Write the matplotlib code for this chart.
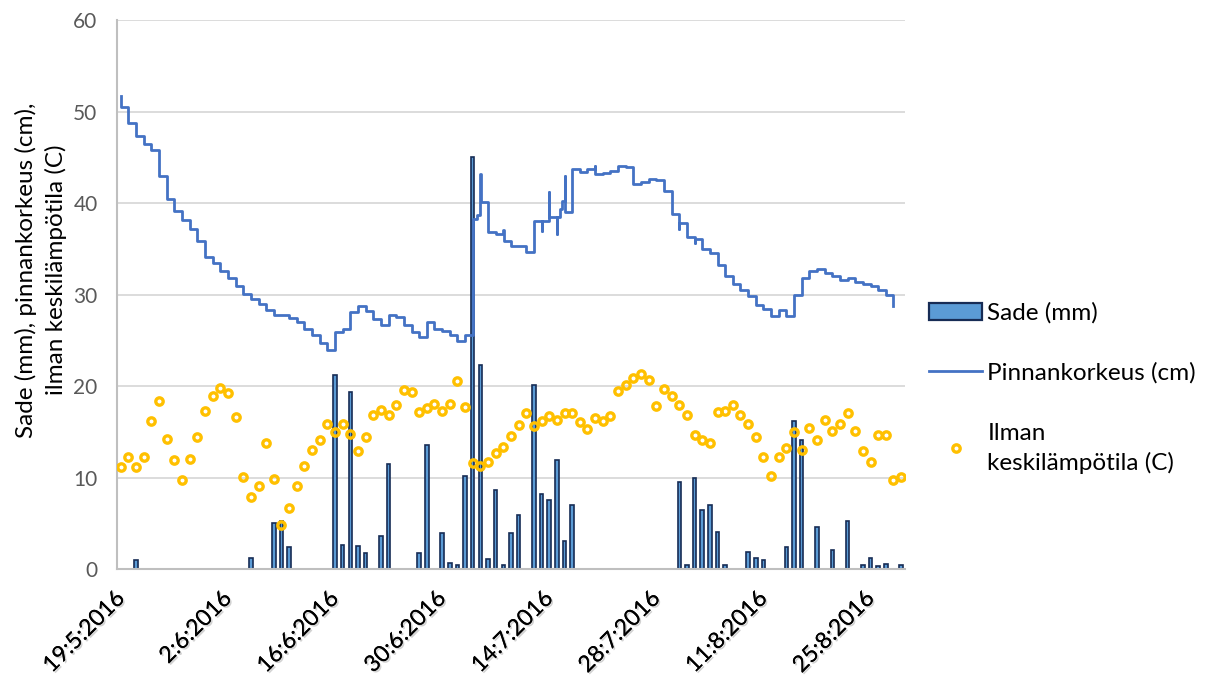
import numpy as np
import matplotlib.pyplot as plt
import matplotlib.patheffects as pe

plt.rcParams['font.family'] = ['Lato', 'DejaVu Sans']

# daily rain (mm), one value per day starting 19.5.2016
rain_mm = [
    0, 0, 1.0, 0, 0, 0, 0, 0, 0, 0,
    0, 0, 0, 0, 0, 0, 0, 1.2, 0, 0,
    5.0, 5.3, 2.4, 0, 0, 0, 0, 0, 21.2, 2.6,
    19.3, 2.5, 1.7, 0, 3.6, 11.5, 0, 0, 0, 1.7,
    13.6, 0, 3.9, 0.7, 0.4, 10.2, 45.0, 22.3, 1.1, 8.6,
    0.4, 3.9, 5.9, 0, 20.1, 8.2, 7.5, 11.9, 3.1, 7.0,
    0, 0, 0, 0, 0, 0, 0, 0, 0, 0,
    0, 0, 0, 9.5, 0.4, 9.9, 6.5, 7.0, 4.0, 0.4,
    0, 0, 1.9, 1.2, 1.0, 0, 0, 2.4, 16.2, 14.1,
    0, 4.6, 0, 2.1, 0, 5.2, 0, 0.4, 1.2, 0.3,
    0.6, 0, 0.4,
]

# daily mean air temperature (C)
temp_c = [
    11.1, 12.2, 11.1, 12.2, 16.2, 18.4, 14.2, 11.9, 9.7, 12.0,
    14.4, 17.3, 18.9, 19.8, 19.2, 16.6, 10.1, 7.9, 9.1, 13.8,
    9.8, 4.8, 6.7, 9.1, 11.3, 13.0, 14.1, 15.8, 15.0, 15.9,
    14.8, 12.9, 14.4, 16.8, 17.4, 16.8, 17.9, 19.6, 19.3, 17.2,
    17.6, 18.0, 17.3, 18.0, 20.6, 17.7, 11.6, 11.3, 11.7, 12.7,
    13.3, 14.5, 15.7, 17.0, 15.6, 16.2, 16.7, 16.3, 17.0, 17.0,
    16.1, 15.3, 16.5, 16.2, 16.7, 19.5, 20.1, 20.9, 21.3, 20.7,
    17.8, 19.7, 18.9, 17.9, 16.8, 14.7, 14.1, 13.8, 17.2, 17.3,
    17.9, 16.8, 15.9, 14.4, 12.2, 10.2, 12.2, 13.2, 15.0, 13.0,
    15.4, 14.1, 16.3, 15.1, 15.9, 17.1, 15.1, 12.9, 11.7, 14.7,
    14.7, 9.7, 10.1,
]

# water level readings (cm): reading time in days from 19.5.2016
level_day = [
    0, 0.03, 1, 2, 3, 4, 5, 6, 7, 8, 9,
    10, 11, 12, 13, 14, 15, 16, 17, 18, 19,
    20, 21, 22, 23, 24, 25, 26, 27, 28, 29,
    30, 31, 32, 33, 34, 35, 36, 37, 38, 39,
    40, 41, 42, 43, 44, 45, 46, 46.5, 47, 47.03, 48, 49,
    50, 50.03, 51, 52, 53, 54, 55, 55.03, 56, 56.03, 57, 57.03, 57.4, 57.7,
    58, 58.03, 59,
    60, 61, 62, 62.03, 63, 64, 65, 66, 67, 68, 69,
    70, 71, 72, 73, 73.03, 74, 75, 75.03, 76, 77, 78, 79,
    80, 81, 82, 83, 84, 85, 86, 87, 88, 89,
    90, 91, 92, 93, 94, 95, 96, 97, 98, 99,
    100, 101,
]
level_cm = [
    51.7, 50.5, 48.7, 47.3, 46.5, 45.8, 42.9, 40.4, 39.1, 38.1, 37.2,
    35.8, 34.1, 33.4, 32.6, 31.8, 30.9, 30.1, 29.5, 29.0, 28.3,
    27.8, 27.8, 27.4, 27.0, 26.2, 25.6, 24.7, 23.9, 25.9, 26.2,
    28.1, 28.7, 28.2, 27.3, 26.7, 27.8, 27.5, 26.7, 25.9, 25.4,
    27.0, 26.2, 26.0, 25.6, 24.9, 25.6, 38.2, 38.7, 43.2, 40.1, 36.8, 36.6,
    37.1, 35.9, 35.3, 35.3, 34.7, 38.0, 36.9, 38.0, 41.2, 38.5, 36.6, 38.5, 39.3, 40.2,
    42.9, 39.0, 43.7,
    43.4, 43.7, 44.0, 43.2, 43.3, 43.5, 44.0, 43.9, 42.1, 42.3, 42.6,
    42.5, 41.3, 38.8, 37.2, 37.8, 36.3, 35.6, 36.1, 35.0, 34.5, 33.2, 32.0,
    31.1, 30.5, 29.8, 28.9, 28.4, 27.7, 28.3, 27.7, 29.9, 31.8,
    32.6, 32.8, 32.4, 32.0, 31.6, 31.8, 31.4, 31.1, 30.9, 30.5,
    29.9, 28.7,
]

tick_labels = ['19:5:2016', '2:6:2016', '16:6:2016', '30:6:2016',
               '14:7:2016', '28:7:2016', '11:8:2016', '25:8:2016']

days = np.arange(len(rain_mm))

fig = plt.figure(figsize=(12.16, 6.79), dpi=100)
ax = fig.add_axes([0.0962, 0.162, 0.648, 0.8085])

bars = ax.bar(days, rain_mm, width=0.46, color='#5B9BD5', edgecolor='#172C55',
              linewidth=1.2, label='Sade (mm)', zorder=2)
line, = ax.plot(level_day, level_cm, drawstyle='steps-post', color='#4472C4',
                lw=2.0, label='Pinnankorkeus (cm)', zorder=3)
dots, = ax.plot(days, temp_c, ls='none', marker='o', ms=5.3, mfc='none',
                mec='#FFC000', mew=2.4, label='Ilman\nkeskilämpötila (C)',
                zorder=4)

ax.set_xlim(-0.5, len(days) - 0.5)
ax.set_ylim(0, 60)
ax.set_yticks(np.arange(0, 61, 10))
ax.grid(axis='y', color='#D9D9D9', lw=1.3, zorder=0)
ax.set_axisbelow(True)

for s in ['top', 'right']:
    ax.spines[s].set_visible(False)
for s in ['left', 'bottom']:
    ax.spines[s].set_color('#BFBFBF')
    ax.spines[s].set_linewidth(1.5)

ax.tick_params(axis='y', length=0, pad=14, labelsize=15, labelcolor='#595959')
ax.set_xticks(days[::14])
ax.set_xticklabels(tick_labels, rotation=45, ha='right', va='center',
                   rotation_mode='anchor', fontsize=16.5)
ax.tick_params(axis='x', length=0, pad=19, labelcolor='#000000')
shadow = [pe.withSimplePatchShadow(offset=(1.2, -1.2), shadow_rgbFace='#7F7F7F',
                                   alpha=0.35), pe.Normal()]
for lbl in ax.get_xticklabels():
    lbl.set_path_effects(shadow)

ax.set_ylabel('Sade (mm), pinnankorkeus (cm),\nilman keskilämpötila (C)',
              fontsize=17.5, color='#000000', linespacing=1.4)
ax.yaxis.set_label_coords(-0.064, 0.545)

leg = fig.legend(handles=[bars, line, dots], loc='upper left',
                 bbox_to_anchor=(929 / 1216, 1 - 302 / 679),
                 frameon=False, fontsize=17.5, handlelength=2.2,
                 handletextpad=0.2, labelspacing=1.6, borderpad=0,
                 borderaxespad=0)
for t in leg.get_texts():
    t.set_linespacing(1.45)
leg.legend_handles[0].set_linewidth(1.6)

fig.savefig('out.png', dpi=100)
